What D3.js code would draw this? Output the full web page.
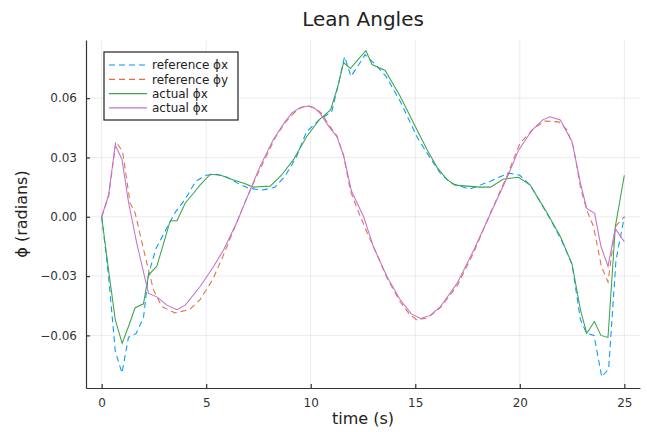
<!DOCTYPE html>
<html>
<head>
<meta charset="utf-8">
<script src="https://cdn.jsdelivr.net/npm/d3@7"></script>
<style>
  body { margin: 0; background: #fff; }
  svg { display: block; font-family: "DejaVu Sans", sans-serif; }
  .grid line { stroke: #000; stroke-opacity: 0.08; }
  .series { fill: none; stroke-width: 1.05; }
</style>
</head>
<body>
<svg id="chart" width="647" height="432"></svg>
<script>
// time (s) and angle (rad) pairs
const referencePhiX = [
  [0, 0], [0.33, -0.030], [0.65, -0.068], [0.97, -0.079], [1.28, -0.061], [1.65, -0.059],
  [2.0, -0.051], [2.24, -0.029], [2.6, -0.016], [3.0, -0.008], [3.5, 0.002], [4.0, 0.009],
  [4.5, 0.018], [5.0, 0.021], [5.5, 0.0215], [6.0, 0.020], [6.5, 0.017], [7.0, 0.0145],
  [7.7, 0.0135], [8.3, 0.015], [8.8, 0.021], [9.3, 0.030], [9.8, 0.043], [10.4, 0.049],
  [11.0, 0.053], [11.3, 0.066], [11.62, 0.081], [11.92, 0.071], [12.3, 0.077], [12.6, 0.082],
  [13.0, 0.078], [13.6, 0.071], [14.3, 0.058], [15.1, 0.040], [15.7, 0.030], [16.2, 0.022],
  [16.7, 0.017], [17.6, 0.014], [18.1, 0.016], [18.6, 0.018], [19.0, 0.020], [19.5, 0.022],
  [20.0, 0.021], [20.5, 0.016], [21.0, 0.007], [21.5, -0.002], [22.0, -0.012], [22.5, -0.024],
  [22.9, -0.052], [23.2, -0.059], [23.55, -0.060], [23.92, -0.081], [24.25, -0.077],
  [24.6, -0.022], [25.0, 0.0]
];

const referencePhiY = [
  [0, 0], [0.33, 0.010], [0.68, 0.038], [1.0, 0.033], [1.36, 0.007], [1.6, 0.002],
  [2.08, -0.020], [2.48, -0.037], [2.88, -0.0455], [3.5, -0.0486], [4.2, -0.047], [4.7, -0.042],
  [5.3, -0.032], [5.8, -0.020], [6.3, -0.007], [6.8, 0.006], [7.3, 0.018], [7.8, 0.029],
  [8.3, 0.040], [8.8, 0.048], [9.3, 0.0535], [9.6, 0.0555], [9.9, 0.056], [10.2, 0.055],
  [10.5, 0.0525], [10.9, 0.046], [11.25, 0.041], [11.57, 0.031], [11.9, 0.013], [12.3, 0.002],
  [12.7, -0.008], [13.2, -0.020], [13.65, -0.031], [14.28, -0.043], [14.7, -0.049],
  [15.08, -0.0523], [15.6, -0.051], [16.2, -0.046], [17.0, -0.035], [17.8, -0.018],
  [18.6, 0.002], [19.4, 0.021], [20.0, 0.037], [20.66, 0.0447], [21.2, 0.0484], [21.86, 0.048],
  [22.26, 0.044], [22.57, 0.035], [22.9, 0.015], [23.2, 0.0034], [23.53, -0.005], [23.9, -0.025],
  [24.22, -0.033], [24.57, -0.005], [25.0, 0]
];

const actualPhiX = [
  [0, 0], [0.33, -0.027], [0.65, -0.052], [0.98, -0.064], [1.3, -0.055], [1.6, -0.046],
  [2.0, -0.044], [2.24, -0.0295], [2.64, -0.025], [3.0, -0.012], [3.28, -0.002], [3.6, -0.002],
  [4.0, 0.007], [4.4, 0.012], [4.7, 0.016], [5.2, 0.0215], [5.7, 0.021], [6.3, 0.0186],
  [6.8, 0.017], [7.26, 0.015], [8.06, 0.0155], [8.6, 0.021], [9.18, 0.029], [9.8, 0.0405],
  [10.4, 0.049], [10.95, 0.054], [11.3, 0.066], [11.57, 0.078], [11.9, 0.075], [12.3, 0.080],
  [12.64, 0.084], [12.93, 0.077], [13.56, 0.074], [14.28, 0.061], [15.08, 0.044], [15.56, 0.034],
  [16.04, 0.025], [16.5, 0.019], [16.9, 0.016], [17.5, 0.0155], [18.1, 0.015], [18.6, 0.015],
  [19.2, 0.019], [19.94, 0.020], [20.5, 0.016], [21.3, 0.002], [21.94, -0.010], [22.5, -0.024],
  [22.9, -0.047], [23.2, -0.059], [23.57, -0.053], [23.88, -0.060], [24.22, -0.061],
  [24.57, -0.005], [25.0, 0.021]
];

const actualPhiY = [
  [0, 0], [0.33, 0.011], [0.65, 0.0363], [0.97, 0.029], [1.28, 0.0076], [1.68, -0.0135],
  [2.24, -0.0388], [2.64, -0.0405], [3.12, -0.0447], [3.6, -0.047], [4.0, -0.0447],
  [4.7, -0.0354], [5.3, -0.026], [5.83, -0.0168], [6.5, -0.002], [7.1, 0.0135], [7.6, 0.026],
  [8.2, 0.0388], [8.7, 0.047], [9.1, 0.0525], [9.5, 0.0553], [9.9, 0.056], [10.2, 0.0548],
  [10.45, 0.0523], [10.93, 0.0447], [11.25, 0.0405], [11.57, 0.031], [11.95, 0.013], [12.53, 0],
  [13.0, -0.0152], [13.65, -0.0303], [14.28, -0.042], [14.8, -0.049], [15.24, -0.0514],
  [15.7, -0.050], [16.2, -0.0455], [17.0, -0.0337], [17.8, -0.0168], [18.6, 0.0017],
  [19.4, 0.020], [19.94, 0.0337], [20.6, 0.044], [21.1, 0.049], [21.45, 0.0506], [21.94, 0.049],
  [22.5, 0.038], [22.9, 0.017], [23.2, 0.0042], [23.58, 0.0017], [23.88, -0.015], [24.22, -0.025],
  [24.57, -0.006], [25.0, -0.0126]
];

const xTicks = [0, 5, 10, 15, 20, 25];
const yTicks = [-0.06, -0.03, 0.00, 0.03, 0.06];

const seriesList = [
  { name: "reference ϕx", data: referencePhiX, color: "#009af9", dash: "6,4" },
  { name: "reference ϕy", data: referencePhiY, color: "#e26f46", dash: "6,4" },
  { name: "actual ϕx", data: actualPhiX, color: "#3da44d", dash: null },
  { name: "actual ϕx", data: actualPhiY, color: "#c271d2", dash: null }
];

const svg = d3.select("#chart");
const margin = { top: 40, right: 7, bottom: 44, left: 86 };
const width = 647, height = 432;

const x = d3.scaleLinear()
  .domain([-0.75, 25.75])
  .range([margin.left, width - margin.right]);

const y = d3.scaleLinear()
  .domain([-0.0866, 0.0894])
  .range([height - margin.bottom, margin.top]);

// Grid
const grid = svg.append("g").attr("class", "grid");
grid.selectAll(".gx").data(xTicks).enter().append("line")
  .attr("x1", d => x(d)).attr("x2", d => x(d))
  .attr("y1", margin.top).attr("y2", height - margin.bottom);
grid.selectAll(".gy").data(yTicks).enter().append("line")
  .attr("x1", margin.left).attr("x2", width - margin.right)
  .attr("y1", d => y(d)).attr("y2", d => y(d));

// Axes (ticks point inward)
const xAxis = svg.append("g")
  .attr("transform", `translate(0,${height - margin.bottom})`)
  .call(d3.axisBottom(x).tickValues(xTicks).tickSizeInner(-4).tickSizeOuter(0).tickPadding(10));

const yAxis = svg.append("g")
  .attr("transform", `translate(${margin.left},0)`)
  .call(d3.axisLeft(y).tickValues(yTicks).tickFormat(d3.format(".2f")).tickSizeInner(-4).tickSizeOuter(0).tickPadding(9));

[xAxis, yAxis].forEach(a => {
  a.select(".domain").attr("stroke", "#333").attr("stroke-width", 1.2);
  a.selectAll(".tick line").attr("stroke", "#333").attr("stroke-width", 1.2);
  a.selectAll(".tick text").attr("fill", "#333").style("font-size", "12px").style("font-family", "DejaVu Sans");
});

// Lines
const line = d3.line()
  .x(d => x(d[0]))
  .y(d => y(d[1]));

svg.append("g").selectAll("path")
  .data(seriesList)
  .enter().append("path")
  .attr("class", "series")
  .attr("stroke", d => d.color)
  .attr("stroke-dasharray", d => d.dash)
  .attr("d", d => line(d.data));

// Title and labels
svg.append("text")
  .attr("x", (margin.left + width - margin.right) / 2)
  .attr("y", 26)
  .attr("text-anchor", "middle")
  .style("font-size", "20px")
  .attr("fill", "#222")
  .text("Lean Angles");

svg.append("text")
  .attr("x", (margin.left + width - margin.right) / 2)
  .attr("y", 424)
  .attr("text-anchor", "middle")
  .style("font-size", "16px")
  .attr("fill", "#222")
  .text("time (s)");

svg.append("text")
  .attr("transform", `translate(27,${(margin.top + height - margin.bottom) / 2}) rotate(-90)`)
  .attr("text-anchor", "middle")
  .style("font-size", "16px")
  .attr("fill", "#222")
  .text("ϕ (radians)");

// Legend
const legend = svg.append("g").attr("transform", "translate(104,52)");
legend.append("rect")
  .attr("width", 134).attr("height", 68)
  .attr("fill", "#fff").attr("stroke", "#222").attr("stroke-width", 1.2);

const rows = legend.selectAll(".row").data(seriesList).enter().append("g")
  .attr("transform", (d, i) => `translate(0,${13 + i * 14.3})`);
rows.append("line")
  .attr("x1", 5).attr("x2", 43)
  .attr("stroke", d => d.color)
  .attr("stroke-width", 1.2)
  .attr("stroke-dasharray", d => d.dash);
rows.append("text")
  .attr("x", 48).attr("dy", "0.35em")
  .style("font-size", "12px")
  .attr("fill", "#222")
  .text(d => d.name);
</script>
</body>
</html>
